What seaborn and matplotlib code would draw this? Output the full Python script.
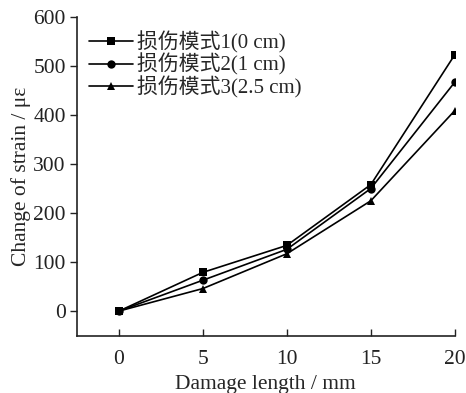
import pandas as pd
import seaborn as sns
import matplotlib.pyplot as plt

# damage length (mm) and change of strain (micro-strain)
length = [0, 5, 10, 15, 20]
mode1 = [0, 79, 134, 258, 523]
mode2 = [0, 63, 126, 250, 467]
mode3 = [0, 46, 117, 225, 409]
labels = ['损伤模式1(0 cm)', '损伤模式2(1 cm)', '损伤模式3(2.5 cm)']

sns.set_style('ticks')
plt.rcParams['font.family'] = ['Liberation Serif', 'Noto Sans CJK SC']
plt.rcParams['font.size'] = 15.5
plt.rcParams['mathtext.fontset'] = 'stix'

df = pd.DataFrame({
    'length': length * 3,
    'strain': mode1 + mode2 + mode3,
    'mode': [labels[0]] * 5 + [labels[1]] * 5 + [labels[2]] * 5,
})

fig = plt.figure(figsize=(4.66, 3.93), dpi=100)
ax = fig.add_axes([0.165, 0.146, 0.811, 0.811])

sns.lineplot(data=df, x='length', y='strain', style='mode', markers=['s', 'o', '^'],
             dashes=False, color='black', linewidth=1.2, markersize=6,
             markeredgewidth=0, ax=ax)

ax.set_xlim(-2.5, 20)
ax.set_ylim(-50, 600)
ax.set_xticks([0, 5, 10, 15, 20])
ax.set_yticks([0, 100, 200, 300, 400, 500, 600])
ax.tick_params(axis='x', direction='in', length=5, width=1, pad=10, colors='#222222',
               labelsize=15.5)
ax.tick_params(axis='y', direction='out', length=5, width=1, pad=3, colors='#222222',
               labelsize=15.5)
for s in ['top', 'right']:
    ax.spines[s].set_visible(False)
for s in ['left', 'bottom']:
    ax.spines[s].set_linewidth(1.2)
    ax.spines[s].set_color('#222222')

ax.set_xlabel('Damage length / mm', labelpad=5, fontsize=15.5)
ax.set_ylabel('Change of strain / με', labelpad=2, fontsize=15.5)

leg = ax.legend(loc='upper left', bbox_to_anchor=(0.0, 0.995), frameon=False,
                handlelength=2.1, handletextpad=0.2, labelspacing=0.02,
                borderaxespad=0.2, title=None, fontsize=15)

plt.savefig('out.png', dpi=100)
